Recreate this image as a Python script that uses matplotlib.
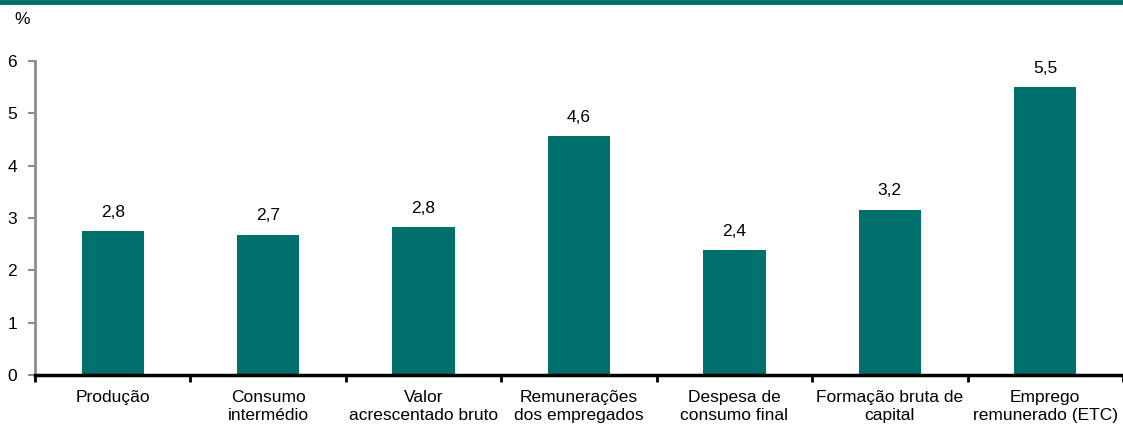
import matplotlib
matplotlib.use("Agg")
import matplotlib.pyplot as plt
from matplotlib.ticker import FixedLocator, NullFormatter

plt.rcParams['font.family'] = ['Liberation Sans', 'DejaVu Sans']

categories = ["Produção", "Consumo\nintermédio", "Valor\nacrescentado bruto",
              "Remunerações\ndos empregados", "Despesa de\nconsumo final",
              "Formação bruta de\ncapital", "Emprego\nremunerado (ETC)"]
values = [2.75, 2.68, 2.82, 4.56, 2.38, 3.16, 5.50]
value_labels = ["2,8", "2,7", "2,8", "4,6", "2,4", "3,2", "5,5"]
y_ticks = [0, 1, 2, 3, 4, 5, 6]

teal = "#00706C"
fs = 12.5

fig = plt.figure(figsize=(11.23, 4.25), dpi=100)
ax = fig.add_axes([35/1123, 1 - 375/425, 1 - 35/1123, (375 - 61)/425])

x = list(range(len(categories)))
ax.bar(x, values, width=0.4, color=teal, zorder=2)
for xi, v, lab in zip(x, values, value_labels):
    ax.text(xi, v + 0.22, lab, ha='center', va='bottom', fontsize=fs, color='black')

ax.set_xlim(-0.5, len(categories) - 0.5)
ax.set_ylim(0, 6)
ax.set_yticks(y_ticks)
ax.set_yticklabels([str(t) for t in y_ticks], fontsize=fs)
ax.tick_params(axis='y', direction='out', length=5, width=1.5, color='#8c8c8c', pad=8)

ax.xaxis.set_major_locator(FixedLocator([i - 0.5 for i in range(len(categories) + 1)]))
ax.xaxis.set_major_formatter(NullFormatter())
ax.xaxis.set_minor_locator(FixedLocator(x))
ax.set_xticklabels(categories, minor=True, fontsize=fs, linespacing=1.2, va='top')
ax.tick_params(axis='x', which='major', direction='out', length=5, width=2, color='black')
ax.tick_params(axis='x', which='minor', length=0, pad=11)

for s in ['top', 'right']:
    ax.spines[s].set_visible(False)
ax.spines['left'].set_color('#8c8c8c')
ax.spines['left'].set_linewidth(2)
ax.spines['bottom'].set_color('black')
ax.spines['bottom'].set_linewidth(2.5)
ax.spines['bottom'].set_zorder(3)

fig.text(14/1123, 1 - 20/425, "%", fontsize=fs, ha='left', va='center')
fig.add_artist(plt.Line2D([0, 1], [1 - 1.5/425, 1 - 1.5/425], color=teal, linewidth=3.5,
                          transform=fig.transFigure))

fig.savefig("out.png", dpi=100)
